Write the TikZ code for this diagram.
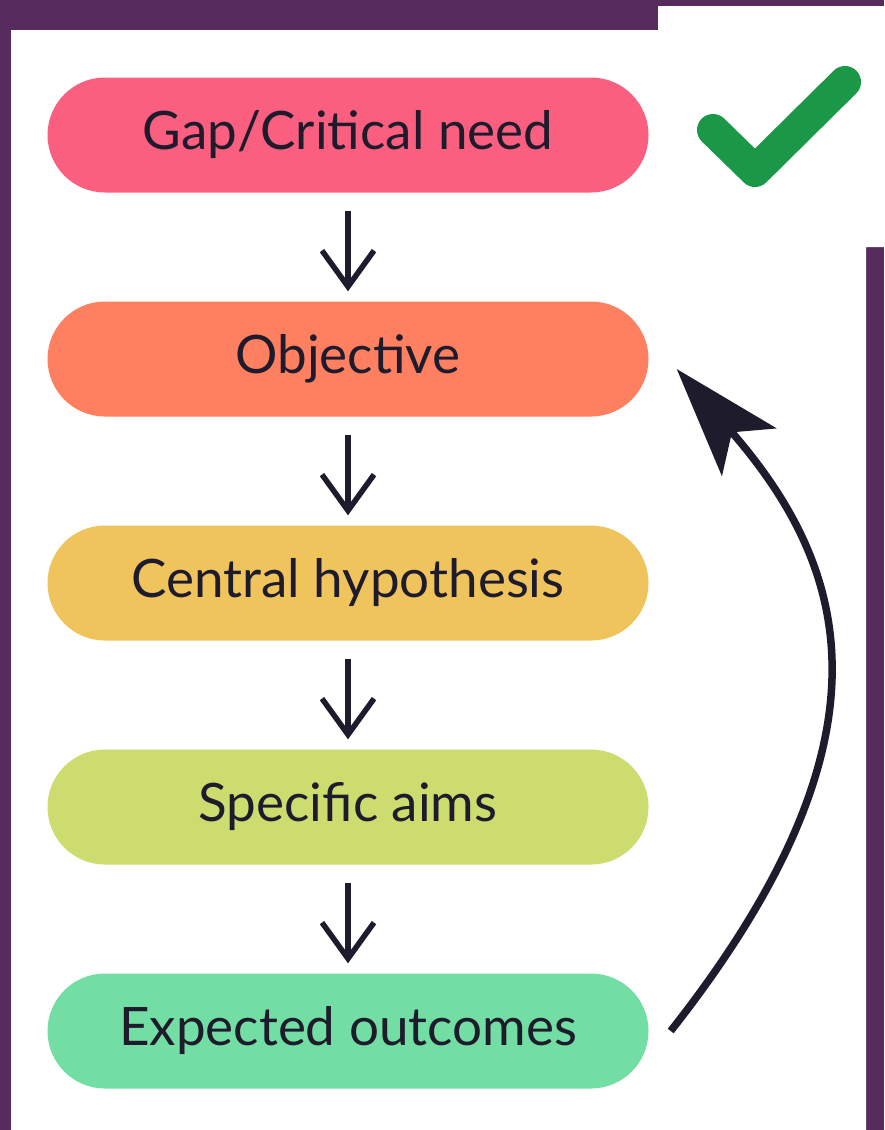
\documentclass[tikz,border=0pt]{standalone}
\usepackage{fontspec}
\setmainfont{Lato}
\usepackage{xcolor}
\usepackage{tikz}
\usetikzlibrary{shapes,arrows.meta}
\definecolor{slidebg}{HTML}{582B5E}
\definecolor{gapcol}{HTML}{FA5F80}
\definecolor{objcol}{HTML}{FF7F61}
\definecolor{hypcol}{HTML}{F0C45C}
\definecolor{aimcol}{HTML}{CCDC6E}
\definecolor{outcol}{HTML}{72DEA3}
\definecolor{inkcol}{HTML}{1E1B2C}
\definecolor{tickcol}{HTML}{1A9848}
\tikzstyle{stage}=[rounded rectangle, draw=none, inner sep=0pt,
        minimum width=601pt, minimum height=115pt,
        text=inkcol, font=\fontsize{53}{60}\selectfont]
\tikzstyle{down}=[-{Straight Barb[length=36pt,width=52pt]}, line width=5.5pt, draw=inkcol]
\tikzstyle{loop}=[-{Stealth[length=110pt,width=72pt,inset=26pt]}, line width=7.5pt, draw=inkcol]

\begin{document}
\begin{tikzpicture}
      [x=1pt, y=-1pt, node distance=224pt]
      \useasboundingbox (0,0) rectangle (884,1130);
      % Slide background
      \fill [slidebg] (0,0) rectangle (884,1130);
      \fill [white] (11,30) -- (658,30) -- (658,6) -- (884,6) -- (884,247)
        -- (866,247) -- (866,1130) -- (11,1130) -- cycle;
      % Place nodes
      \node [stage, fill=gapcol] (gap) at (348,135) {Gap/Critical need};
      \node [stage, fill=objcol, below of=gap] (objective) {Objective};
      \node [stage, fill=hypcol, below of=objective] (hypothesis) {Central hypothesis};
      \node [stage, fill=aimcol, below of=hypothesis] (aims) {Specific aims};
      \node [stage, fill=outcol, below of=aims] (outcomes) {Expected outcomes};
      % Draw edges
      \draw [down] ([yshift=-18pt]gap.south) -- ([yshift=10pt]objective.north);
      \draw [down] ([yshift=-18pt]objective.south) -- ([yshift=10pt]hypothesis.north);
      \draw [down] ([yshift=-18pt]hypothesis.south) -- ([yshift=10pt]aims.north);
      \draw [down] ([yshift=-18pt]aims.south) -- ([yshift=10pt]outcomes.north);
      \draw [loop] ([xshift=22pt]outcomes.east) .. controls (900,740) and (852,570)
        .. ([xshift=28pt,yshift=-10pt]objective.east);
      % Check mark
      \draw [tickcol, line width=32pt, line cap=round, line join=round]
        (713,130) -- (755,171) -- (845,82);
\end{tikzpicture}
\end{document}
